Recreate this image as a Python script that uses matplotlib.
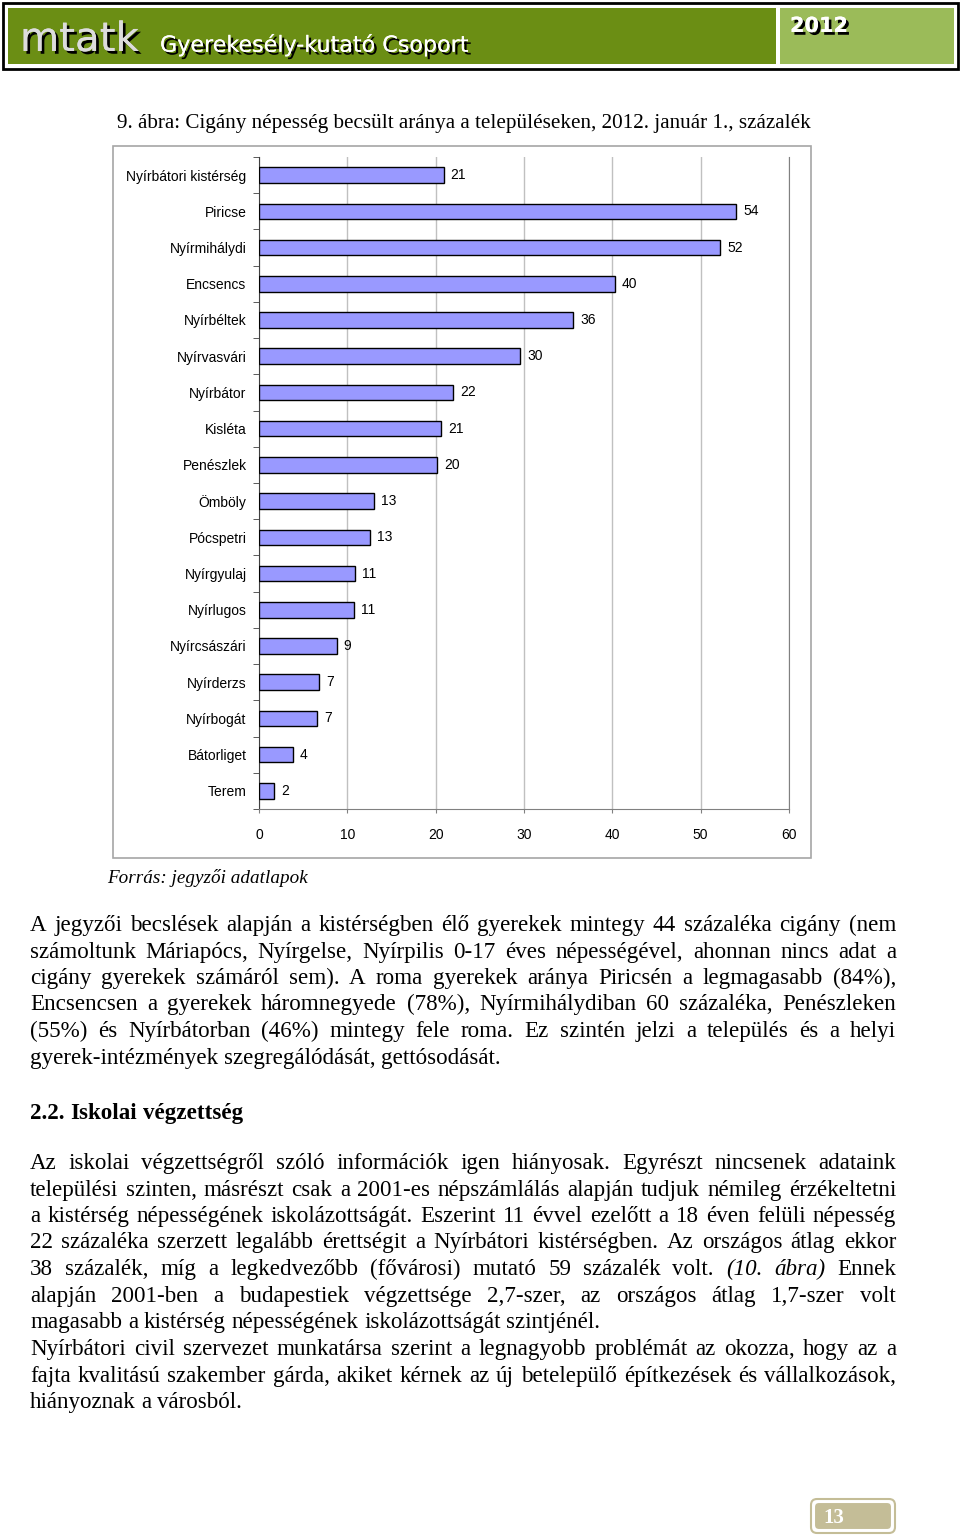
import matplotlib
matplotlib.use('Agg')
import matplotlib.pyplot as plt
import matplotlib.patheffects as pe
from matplotlib.patches import Rectangle, FancyBboxPatch

W, H = 960, 1540

# chart data (top to bottom)
places = ['Nyírbátori kistérség', 'Piricse', 'Nyírmihálydi', 'Encsencs', 'Nyírbéltek',
          'Nyírvasvári', 'Nyírbátor', 'Kisléta', 'Penészlek', 'Ömböly', 'Pócspetri',
          'Nyírgyulaj', 'Nyírlugos', 'Nyírcsászári', 'Nyírderzs', 'Nyírbogát',
          'Bátorliget', 'Terem']
shares = [20.9, 54.0, 52.2, 40.3, 35.6, 29.6, 22.0, 20.6, 20.2, 13.0, 12.6,
          10.9, 10.8, 8.8, 6.8, 6.6, 3.8, 1.7]
xticks = [0, 10, 20, 30, 40, 50, 60]

title = '9. ábra: Cigány népesség becsült aránya a településeken, 2012. január 1., százalék'
source = 'Forrás: jegyzői adatlapok'

# page text: lines, '_' marks italic words
par1 = ['A jegyzői becslések alapján a kistérségben élő gyerekek mintegy 44 százaléka cigány (nem',
        'számoltunk Máriapócs, Nyírgelse, Nyírpilis 0-17 éves népességével, ahonnan nincs adat a',
        'cigány gyerekek számáról sem). A roma gyerekek aránya Piricsén a legmagasabb (84%),',
        'Encsencsen a gyerekek háromnegyede (78%), Nyírmihálydiban 60 százaléka, Penészleken',
        '(55%) és Nyírbátorban (46%) mintegy fele roma. Ez szintén jelzi a település és a helyi',
        'gyerek-intézmények szegregálódását, gettósodását.']
heading = '2.2. Iskolai végzettség'
par2 = ['Az iskolai végzettségről szóló információk igen hiányosak. Egyrészt nincsenek adataink',
        'települési szinten, másrészt csak a 2001-es népszámlálás alapján tudjuk némileg érzékeltetni',
        'a kistérség népességének iskolázottságát. Eszerint 11 évvel ezelőtt a 18 éven felüli népesség',
        '22 százaléka szerzett legalább érettségit a Nyírbátori kistérségben. Az országos átlag ekkor',
        '38 százalék, míg a legkedvezőbb (fővárosi) mutató 59 százalék volt. _(10. _ábra) Ennek',
        'alapján 2001-ben a budapestiek végzettsége 2,7-szer, az országos átlag 1,7-szer volt',
        'magasabb a kistérség népességének iskolázottságát szintjénél.']
par3 = ['Nyírbátori civil szervezet munkatársa szerint a legnagyobb problémát az okozza, hogy az a',
        'fajta kvalitású szakember gárda, akiket kérnek az új betelepülő építkezések és vállalkozások,',
        'hiányoznak a városból.']

fig = plt.figure(figsize=(W / 100, H / 100), dpi=100)
fig.patch.set_facecolor('white')

# page overlay in pixel coords
pg = fig.add_axes([0, 0, 1, 1])
pg.set_xlim(0, W)
pg.set_ylim(H, 0)
pg.axis('off')

# header banner
pg.add_patch(Rectangle((3, 3), 955, 66, fc='white', ec='black', lw=2))
pg.add_patch(Rectangle((8, 8), 768, 56, fc='#6b8e14', ec='none'))
pg.add_patch(Rectangle((780, 8), 174, 56, fc='#9bbb59', ec='none'))
shadow = [pe.withSimplePatchShadow(offset=(2, -2), shadow_rgbFace='black', alpha=1.0), pe.Normal()]
pg.text(20, 40, 'mtatk', fontsize=29, color='#dcdcdc', family='DejaVu Sans Condensed',
        va='center', ha='left', path_effects=shadow)
pg.text(160, 45, 'Gyerekesély-kutató Csoport', fontsize=16, color='white', family='DejaVu Sans',
        va='center', ha='left', path_effects=shadow)
pg.text(790, 26, '2012', fontsize=15, color='white', family='DejaVu Sans', weight='bold',
        va='center', ha='left', path_effects=shadow)

serif = 'Liberation Serif'
sans = 'Liberation Sans'
pg.text(117, 128, title, fontsize=15.2, family=serif, va='baseline', ha='left')

# chart frame
pg.add_patch(Rectangle((113, 146), 698, 712, fc='white', ec='#a6a6a6', lw=1.2, zorder=0))
pg.text(107, 883, source, fontsize=13.8, family=serif, style='italic', va='baseline', ha='left')

# bar chart
ax = fig.add_axes([259 / W, 1 - 809 / H, 530 / W, (809 - 157) / H])
ypos = list(range(len(places)))
ax.barh(ypos, shares, height=0.43, color='#9999ff', edgecolor='black', lw=1, zorder=3)
for y, v in zip(ypos, shares):
    ax.text(v + 0.8, y, f'{v:.0f}', fontsize=10, family=sans, va='center', ha='left')
ax.set_ylim(len(places) - 0.5, -0.5)
ax.set_xlim(0, 60)
ax.set_yticks(ypos)
ax.set_yticklabels(places, fontsize=10, family=sans)
ax.set_yticks([i - 0.5 for i in range(len(places) + 1)], minor=True)
ax.tick_params(axis='y', which='major', length=0, pad=9)
ax.tick_params(axis='y', which='minor', length=4, color='#404040')
ax.set_xticks(xticks)
ax.set_xticklabels([str(t) for t in xticks], fontsize=10, family=sans)
ax.tick_params(axis='x', length=3, color='#808080', pad=11)
ax.grid(axis='x', color='#c0c0c0', lw=1, zorder=0)
ax.spines['top'].set_visible(False)
ax.spines['left'].set_color('#404040')
ax.spines['bottom'].set_color('#808080')
ax.spines['right'].set_color('#808080')

# justified body text (one text per word, baselines on whole pixels)
FS = 16.6
LEFT, RIGHT = 30, 896
renderer = fig.canvas.get_renderer()
inv = pg.transData.inverted()


def text_w(t):
    bb = t.get_window_extent(renderer)
    return inv.transform((bb.x1, bb.y0))[0] - inv.transform((bb.x0, bb.y0))[0]


def put_line(line, y, justify=True, st0='normal'):
    y = round(y)
    arts = []
    for w in line.split(' '):
        ital = w.startswith('_')
        t = pg.text(0, y, w.lstrip('_'), fontsize=FS, family=serif,
                    style='italic' if ital else 'normal',
                    weight='bold' if st0 == 'bold' else 'normal',
                    va='baseline', ha='left')
        arts.append(t)
    widths = [text_w(t) for t in arts]
    if justify and len(arts) > 1:
        gap = (RIGHT - LEFT - sum(widths)) / (len(arts) - 1)
    else:
        gap = FS * 0.25 * 100 / 72
    x = LEFT
    for t, wd in zip(arts, widths):
        t.set_x(x)
        x += wd + gap


def put_par(lines, y0, step=26.5):
    for i, ln in enumerate(lines):
        put_line(ln, y0 + i * step, justify=(i < len(lines) - 1))


put_par(par1, 931)
put_line(heading, 1119, justify=False, st0='bold')
put_par(par2, 1169)
put_par(par3, 1355)

# page number box
pg.add_patch(FancyBboxPatch((814, 1502), 78, 28, boxstyle='round,pad=0,rounding_size=5',
                            fc='#c4bd97', ec='white', lw=1.5))
pg.add_patch(FancyBboxPatch((811, 1499), 84, 34, boxstyle='round,pad=0,rounding_size=6',
                            fc='none', ec='#c4bd97', lw=1.5))
pg.text(823, 1523, '13', fontsize=15, family=serif, weight='bold', color='white',
        va='baseline', ha='left')

fig.savefig('out.png', dpi=100, facecolor='white')
